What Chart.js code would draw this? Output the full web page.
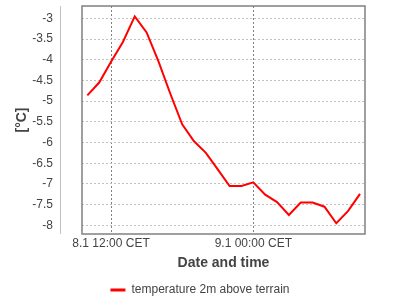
<!DOCTYPE html>
<html>
<head>
<meta charset="utf-8">
<script src="https://cdn.jsdelivr.net/npm/chart.js@4/dist/chart.umd.min.js"></script>
<style>
  html, body { margin: 0; padding: 0; background: #fff; }
  #wrap { width: 400px; height: 300px; }
</style>
</head>
<body>
<div id="wrap"><canvas id="myChart" width="400" height="300"></canvas></div>
<script>
// hours counted from 8.1 00:00 CET
var hours = [10, 11, 12, 13, 14, 15, 16, 17, 18, 19, 20, 21,
             22, 23, 24, 25, 26, 27, 28, 29, 30, 31, 32, 33];
var temps = [-4.86, -4.55, -4.05, -3.57, -2.95, -3.34, -4.04, -4.82, -5.56, -5.97, -6.25, -6.65,
             -7.05, -7.05, -6.96, -7.26, -7.44, -7.75, -7.45, -7.45, -7.55, -7.95, -7.65, -7.24];
var xTickHours = [12, 24];
var xTickLabels = ['8.1 12:00 CET', '9.1 00:00 CET'];
var yTicks = [-8, -7.5, -7, -6.5, -6, -5.5, -5, -4.5, -4, -3.5, -3];
var seriesName = 'temperature 2m above terrain';

var points = [];
for (var i = 0; i < hours.length; i++) {
    points.push({ x: hours[i], y: temps[i] });
}

Chart.defaults.font.family = 'Liberation Sans, Arial, sans-serif';
Chart.defaults.color = '#444';

// frame around plot and detached y axis line
var framePlugin = {
    id: 'frame',
    beforeDatasetsDraw: function (chart) {
        var ctx = chart.ctx;
        var a = chart.chartArea;
        ctx.save();
        ctx.strokeStyle = '#808080';
        ctx.lineWidth = 1.5;
        ctx.strokeRect(a.left, a.top, a.right - a.left, a.bottom - a.top);
        ctx.strokeStyle = '#c0c0c0';
        ctx.lineWidth = 1;
        ctx.beginPath();
        ctx.moveTo(a.left - 21.5, a.top);
        ctx.lineTo(a.left - 21.5, a.bottom);
        ctx.stroke();
        ctx.restore();
    }
};

var ctx = document.getElementById('myChart').getContext('2d');
var myChart = new Chart(ctx, {
    type: 'line',
    data: {
        datasets: [{
            label: seriesName,
            data: points,
            borderColor: '#ff0000',
            backgroundColor: '#ff0000',
            borderWidth: 2,
            pointRadius: 0,
            tension: 0
        }]
    },
    options: {
        responsive: false,
        animation: false,
        layout: { padding: { left: 0, right: 0, top: 0, bottom: -6 } },
        plugins: {
            tooltip: { enabled: false },
            legend: {
                position: 'bottom',
                labels: {
                    font: { size: 12 },
                    color: '#444',
                    boxWidth: 15,
                    boxHeight: 3,
                    padding: 0,
                    generateLabels: function (chart) {
                        var items = Chart.defaults.plugins.legend.labels.generateLabels(chart);
                        items.forEach(function (it) { it.lineWidth = 0; });
                        return items;
                    }
                }
            }
        },
        scales: {
            x: {
                type: 'linear',
                min: 9.55,
                max: 33.42,
                afterBuildTicks: function (scale) {
                    scale.ticks = xTickHours.map(function (h) { return { value: h }; });
                },
                afterFit: function (scale) { scale.height = 50; },
                ticks: {
                    padding: 2,
                    font: { size: 12 },
                    color: '#444',
                    maxRotation: 0,
                    callback: function (value) {
                        var k = xTickHours.indexOf(value);
                        return k >= 0 ? xTickLabels[k] : '';
                    }
                },
                grid: { color: '#808080', lineWidth: 1, drawTicks: false },
                border: { display: false, dash: [2, 2] },
                title: {
                    display: true,
                    text: 'Date and time',
                    color: '#444',
                    font: { size: 14, weight: 'bold' },
                    padding: { top: 0, bottom: 12.6 }
                }
            },
            y: {
                min: -8.21,
                max: -2.70,
                afterBuildTicks: function (scale) {
                    scale.ticks = yTicks.map(function (v) { return { value: v }; });
                },
                afterFit: function (scale) { scale.width = 82; },
                ticks: {
                    padding: 0,
                    font: { size: 12, lineHeight: 1 },
                    color: '#444',
                    callback: function (value) { return String(value); }
                },
                grid: {
                    color: '#c0c0c0',
                    lineWidth: 1,
                    drawTicks: true,
                    tickLength: 29,
                    tickColor: 'rgba(0,0,0,0)'
                },
                border: { display: false, dash: [2, 2] },
                title: {
                    display: true,
                    text: '[°C]',
                    color: '#444',
                    font: { size: 14, weight: 'bold' },
                    padding: { top: 14, bottom: 4 }
                }
            },
            // empty right margin so the legend centres on the whole canvas
            yr: {
                position: 'right',
                min: -8.21,
                max: -2.70,
                afterFit: function (scale) { scale.width = 35; },
                ticks: { display: false },
                grid: { display: false },
                border: { display: false }
            }
        }
    },
    plugins: [framePlugin]
});
</script>
</body>
</html>
